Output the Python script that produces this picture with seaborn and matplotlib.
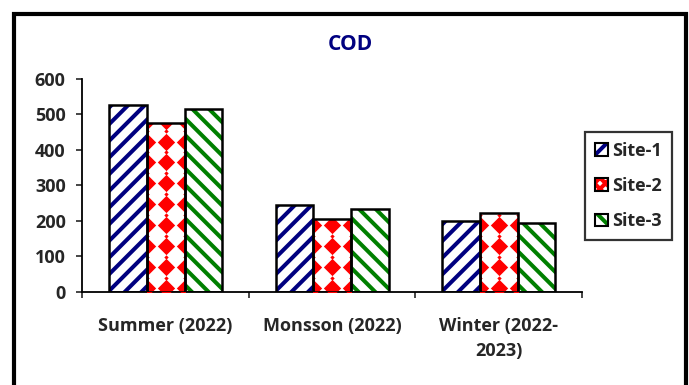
import matplotlib
matplotlib.use("Agg")
import matplotlib.pyplot as plt
import seaborn as sns
import pandas as pd
import numpy as np
from matplotlib.patches import Rectangle, Patch
from matplotlib.ticker import FixedLocator

# ---- data ----
seasons = ["Summer (2022)", "Monsson (2022)", "Winter (2022-\n2023)"]
sites = ["Site-1", "Site-2", "Site-3"]
site1 = [525, 244, 199]
site2 = [474, 205, 221]
site3 = [516, 232, 193]
y_ticks = [0, 100, 200, 300, 400, 500, 600]
title = "COD"

site_colors = ["#000080", "#ff0000", "#008000"]
site_hatches = ["//", None, "\\\\"]

df = pd.DataFrame({
    "season": seasons * 3,
    "site": [s for s in sites for _ in seasons],
    "value": site1 + site2 + site3,
})

sns.set_style("ticks")
plt.rcParams["font.family"] = ["Open Sans", "DejaVu Sans"]
plt.rcParams["font.weight"] = "bold"
plt.rcParams["hatch.linewidth"] = 2.9

FS = 13

fig = plt.figure(figsize=(6.89, 3.85), dpi=100)
ax = fig.add_axes([82.4 / 689, 1 - 291.7 / 385, (582 - 82.4) / 689, (291.7 - 78.7) / 385])

sns.barplot(data=df, x="season", y="value", hue="site", order=seasons,
            hue_order=sites, palette=site_colors, width=0.68,
            errorbar=None, legend=False, ax=ax)

# restyle each series: white fill with coloured pattern, black outline on top
for cont, col, hat in zip(ax.containers, site_colors, site_hatches):
    for bar in cont:
        bar.set_facecolor("white")
        bar.set_edgecolor(col)
        bar.set_linewidth(0)
        if hat:
            bar.set_hatch(hat)
        else:
            # diamond pattern clipped to the bar
            x0, w, h = bar.get_x(), bar.get_width(), bar.get_height()
            rows = np.arange(10, h + 30, 59)
            mid_rows = rows + 29.5
            bx, by = [], []
            for r in rows:
                for cx in (x0, x0 + w / 2, x0 + w):
                    bx.append(cx)
                    by.append(r)
            sx, sy = [], []
            for r in mid_rows:
                for cx in (x0, x0 + w / 2, x0 + w):
                    sx.append(cx)
                    sy.append(r)
            big = ax.scatter(bx, by, marker="D", s=78, color=col, linewidths=0, zorder=3)
            small = ax.scatter(sx, sy, marker="D", s=5, color=col, linewidths=0, zorder=3)
            big.set_clip_path(bar)
            small.set_clip_path(bar)
        ax.add_patch(Rectangle((bar.get_x(), 0), bar.get_width(), bar.get_height(),
                               fill=False, edgecolor="black", linewidth=1.8, zorder=4))

ax.set_ylim(0, 600)
ax.set_xlim(-0.5, 2.5)
ax.set_yticks(y_ticks)
ax.set_yticklabels([str(v) for v in y_ticks], fontsize=FS, fontweight="bold")
ax.set_xticks(range(len(seasons)))
ax.set_xticklabels(seasons, fontsize=FS, fontweight="bold", linespacing=1.5)
ax.xaxis.set_minor_locator(FixedLocator([-0.5, 0.5, 1.5, 2.5]))
ax.tick_params(axis="x", which="major", length=0, pad=18)
ax.tick_params(axis="x", which="minor", length=4, width=1.2, direction="out")
ax.tick_params(axis="y", length=4, width=1.2, direction="out", pad=8)
ax.set_xlabel("")
ax.set_ylabel("")
sns.despine(ax=ax)
for s in ("left", "bottom"):
    ax.spines[s].set_linewidth(1.3)
    ax.spines[s].set_color("black")

fig.text(350 / 689, 1 - 44 / 385, title, ha="center", va="center",
         fontsize=15, fontweight="bold", color="#000080")

# legend with patterned swatches
handles = []
for col, hat in zip(site_colors, site_hatches):
    fillp = Patch(facecolor="white", edgecolor=col,
                  hatch=hat if hat else "xxx", linewidth=0)
    outline = Patch(fill=False, edgecolor="black", linewidth=1.5)
    handles.append((fillp, outline))
leg = fig.legend(handles, sites, loc="upper left",
                 bbox_to_anchor=(585 / 689, 1 - 132 / 385), borderaxespad=0,
                 frameon=True, fancybox=False, handlelength=0.7,
                 handleheight=0.7, handletextpad=0.25, labelspacing=0.95,
                 borderpad=0.55, prop={"weight": "bold", "size": FS})
leg.get_frame().set_edgecolor("black")
leg.get_frame().set_linewidth(1.6)

# outer chart frame
fig.add_artist(Rectangle((14 / 689, -0.1), (686 - 14) / 689, 1 - 14.3 / 385 + 0.1,
                         transform=fig.transFigure, fill=False, edgecolor="black",
                         linewidth=3, clip_on=False))

fig.savefig("out.png", dpi=100)
